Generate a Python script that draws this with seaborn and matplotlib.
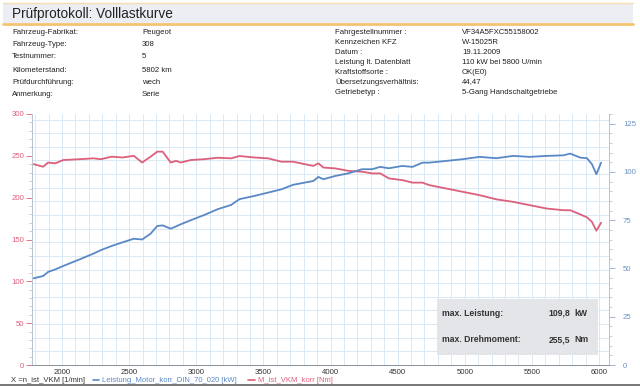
import matplotlib
matplotlib.use("Agg")
import matplotlib.pyplot as plt
import numpy as np
import pandas as pd
import seaborn as sns
from matplotlib.patches import Rectangle
from matplotlib.lines import Line2D
from matplotlib.ticker import MultipleLocator

# ---------------- data ----------------
rpm = [1790, 1860, 1897, 1950, 2010, 2135, 2235, 2290, 2372, 2450, 2535, 2597, 2660,
       2710, 2750, 2810, 2850, 2885, 2960, 3060, 3160, 3260, 3322, 3435, 3535, 3635,
       3720, 3810, 3872, 3910, 3947, 4035, 4135, 4235, 4310, 4370, 4435, 4535, 4610,
       4685, 4735, 4860, 4985, 5110, 5235, 5360, 5485, 5610, 5735, 5785, 5860, 5910,
       5947, 5980, 6015]
torque_nm = [240, 237, 242, 241, 245, 246, 247, 246, 249, 248, 250, 242, 249,
             255, 255, 242, 244, 242, 245, 246, 247.7, 247, 249.8, 248, 247, 243,
             243, 240, 238, 241, 236, 235, 232, 231, 229, 229, 223, 221, 218,
             218, 215, 211, 207, 203, 198, 195, 191, 187, 185, 185, 180, 176.5,
             171, 160.5, 170]
power_kw = [44.9, 46.1, 48.2, 49.5, 51.3, 54.8, 57.7, 59.5, 61.7, 63.5, 65.4, 65.0, 68.0,
            72.0, 72.3, 70.6, 71.8, 72.9, 75.0, 77.7, 80.7, 82.9, 85.9, 87.6, 89.3, 91.0,
            93.3, 94.5, 95.3, 97.4, 96.2, 97.9, 99.3, 101.4, 101.4, 102.6, 101.9, 103.1, 102.6,
            104.8, 104.8, 105.7, 106.6, 107.8, 107.1, 108.3, 107.8, 108.3, 108.6, 109.5, 107.4, 107.1,
            104.0, 98.8, 104.8]

x_ticks = [2000, 2500, 3000, 3500, 4000, 4500, 5000, 5500, 6000]
left_ticks = [0, 50, 100, 150, 200, 250, 300]
right_ticks = [0, 25, 50, 75, 100, 125]

info_left_labels = ["Fahrzeug-Fabrikat:", "Fahrzeug-Type:", "Testnummer:",
                    "Kilometerstand:", "Prüfdurchführung:", "Anmerkung:"]
info_left_values = ["Peugeot", "308", "5", "5802 km", "wech", "Serie"]
info_right_labels = ["Fahrgestellnummer :", "Kennzeichen KFZ", "Datum :",
                     "Leistung lt. Datenblatt", "Kraftstoffsorte :",
                     "Übersetzungsverhältnis:", "Getriebetyp :"]
info_right_values = ["VF34A5FXC55158002", "W-15025R", "19.11.2009",
                     "110 kW bei 5800 U/min", "OK(E0)", "44,47",
                     "5-Gang Handschaltgetriebe"]

title = "Prüfprotokoll: Volllastkurve"
x_label = "X =n_ist_VKM [1/min]"
power_name = "Leistung_Motor_korr_DIN_70_020 [kW]"
torque_name = "M_ist_VKM_korr [Nm]"
max_labels = ["max. Leistung:", "max. Drehmoment:"]
max_values = ["109,8", "255,5"]
max_units = ["kW", "Nm"]

# ---------------- style ----------------
sns.set_style("white")
plt.rcParams["font.family"] = ["Liberation Sans", "DejaVu Sans"]

RED = "#dc5f7b"
BLUE = "#5a88c6"
GRID = "#d5e5f2"

W, H = 640, 386
def fx(px):
    return px / W
def fy(py):
    return 1 - py / H

fig = plt.figure(figsize=(6.4, 3.86), dpi=100)
fig.patch.set_facecolor("white")

ax = fig.add_axes([fx(32), fy(365), (609 - 32) / W, (365 - 114) / H])
ax2 = ax.twinx()

df = pd.DataFrame({"rpm": rpm, "torque": torque_nm, "power": power_kw})
sns.lineplot(data=df, x="rpm", y="torque", ax=ax, color=RED, lw=1.3, zorder=5)
sns.lineplot(data=df, x="rpm", y="power", ax=ax2, color=BLUE, lw=1.3, zorder=5)

ax.set_xlim(1777, 6074)
ax.set_ylim(0, 300)
ax2.set_ylim(0, 130)

# background grid (square pattern, 100 rpm spacing)
for v in np.arange(1800, 6074, 100):
    ax.axvline(v, color=GRID, lw=0.6, zorder=0)
for h in np.arange(16.3, 300, 16.3):
    ax.axhline(h, color=GRID, lw=0.6, zorder=0)

ax.set_xlabel("")
ax.set_ylabel("")
ax2.set_ylabel("")

ax.set_xticks(x_ticks)
ax.xaxis.set_minor_locator(MultipleLocator(100))
ax.set_yticks(left_ticks)
ax.yaxis.set_minor_locator(MultipleLocator(10))
ax2.set_yticks(right_ticks)
ax2.yaxis.set_minor_locator(MultipleLocator(5))

ax.tick_params(axis="x", which="major", labelsize=5.6, length=3, width=0.6,
               color="#8a93a0", labelcolor="#333333", pad=1.5, direction="inout")
ax.tick_params(axis="x", which="minor", length=2.5, width=0.5, color="#8a93a0",
               direction="inout")
ax.tick_params(axis="y", which="major", labelsize=5.6, length=4, width=0.6,
               color=RED, labelcolor=RED, pad=1.5)
ax.tick_params(axis="y", which="minor", length=2, width=0.5, color="#e6a0b0")
ax2.tick_params(axis="y", which="major", labelsize=5.6, length=4, width=0.6,
                color="#8fa8c8", labelcolor="#6d92c2", pad=6)
ax2.tick_params(axis="y", which="minor", length=2, width=0.5, color="#a8bcd6")

for a in (ax, ax2):
    a.spines["top"].set_visible(False)
    a.spines["bottom"].set_color("#8a93a0")
    a.spines["bottom"].set_linewidth(0.7)
    a.spines["left"].set_color("#b8c4d2")
    a.spines["left"].set_linewidth(0.7)
    a.spines["right"].set_color("#b8c4d2")
    a.spines["right"].set_linewidth(0.7)
ax.patch.set_alpha(0)

# ---------------- header ----------------
fig.add_artist(Rectangle((fx(3), fy(23)), fx(630), 20 / H, transform=fig.transFigure,
                         facecolor="#eceef3", edgecolor="none", zorder=1))
fig.add_artist(Line2D([fx(3), fx(633)], [fy(23.5), fy(23.5)], transform=fig.transFigure,
                      color="#f2c470", lw=2.0, zorder=2))
fig.add_artist(Line2D([fx(3), fx(633)], [fy(3), fy(3)], transform=fig.transFigure,
                      color="#f6ddb0", lw=1.0, zorder=2))
fig.text(fx(12), fy(14), title, fontsize=9.8, color="#222222", va="center", ha="left",
         zorder=3)

left_rows = [33, 45, 57, 70, 82, 94]
for py, lab, val in zip(left_rows, info_left_labels, info_left_values):
    fig.text(fx(12), fy(py), lab, fontsize=5.6, color="#222222", va="center")
    fig.text(fx(142), fy(py), val, fontsize=5.6, color="#222222", va="center")
right_rows = [33, 43, 52.5, 62.5, 72, 82, 92]
for py, lab, val in zip(right_rows, info_right_labels, info_right_values):
    fig.text(fx(335), fy(py), lab, fontsize=5.6, color="#222222", va="center")
    fig.text(fx(462), fy(py), val, fontsize=5.6, color="#222222", va="center")

# ---------------- max box ----------------
fig.add_artist(Rectangle((fx(437), fy(355)), (598 - 437) / W, (355 - 299) / H,
                         transform=fig.transFigure, facecolor="#e4e5e9",
                         edgecolor="none", zorder=10))
for py, lab, val, unit in zip([313, 340], max_labels, max_values, max_units):
    fig.text(fx(442), fy(py), lab, fontsize=6.2, fontweight="bold", color="#333333",
             va="center", zorder=11)
    fig.text(fx(570), fy(py), val, fontsize=6.2, fontweight="bold", color="#333333",
             va="center", ha="right", zorder=11)
    fig.text(fx(574), fy(py), unit, fontsize=6.2, fontweight="bold", color="#333333",
             va="center", zorder=11)

# ---------------- bottom legend ----------------
fig.text(fx(11), fy(380.5), x_label, fontsize=5.5, color="#333333", va="center")
fig.add_artist(Line2D([fx(93), fx(99)], [fy(380), fy(380)], transform=fig.transFigure,
                      color=BLUE, lw=1.2))
fig.text(fx(102), fy(380.5), power_name, fontsize=5.5, color=BLUE, va="center")
fig.add_artist(Line2D([fx(248), fx(255)], [fy(380), fy(380)], transform=fig.transFigure,
                      color=RED, lw=1.2))
fig.text(fx(258), fy(380.5), torque_name, fontsize=5.5, color=RED, va="center")

fig.add_artist(Rectangle((0, 0), 1, 2 / H, transform=fig.transFigure,
                         facecolor="#7a7a7a", edgecolor="none", zorder=20))

fig.savefig("out.png", dpi=100)
